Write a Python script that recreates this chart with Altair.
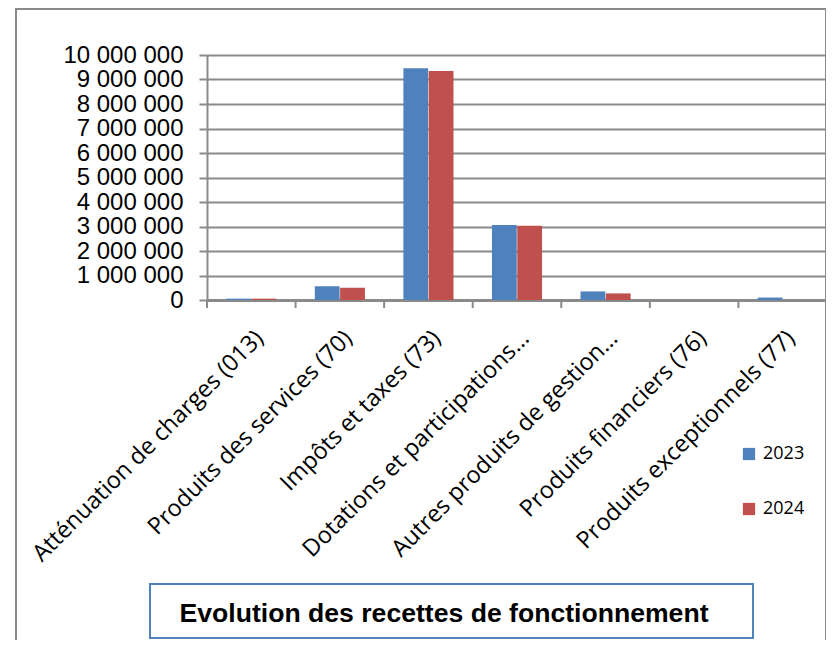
import altair as alt
import pandas as pd

categories = [
    "Atténuation de charges (013)",
    "Produits des services (70)",
    "Impôts et taxes (73)",
    "Dotations et participations…",
    "Autres produits de gestion…",
    "Produits financiers (76)",
    "Produits exceptionnels (77)",
]
years = ["2023", "2024"]
values_2023 = [55000, 560000, 9460000, 3060000, 350000, 0, 100000]
values_2024 = [55000, 500000, 9350000, 3030000, 270000, 0, 0]
colors = ["#4F81BD", "#C0504D"]
y_ticks = list(range(0, 10_000_001, 1_000_000))
title_text = "Evolution des recettes de fonctionnement"

rows = []
for c, a, b in zip(categories, values_2023, values_2024):
    rows.append({"cat": c, "year": years[0], "value": a})
    rows.append({"cat": c, "year": years[1], "value": b})
df = pd.DataFrame(rows)
cats_df = pd.DataFrame({"cat": categories})

W, H = 620, 245
PAD_L, PAD_T = 199, 47
TOTAL_W, TOTAL_H = 818, 632

xscale = alt.Scale(domain=categories, paddingInner=0, paddingOuter=0)
yscale = alt.Scale(domain=[0, 10_000_000], nice=False)

# outer frame
frame = alt.Chart(cats_df.head(1)).mark_rect(
    fillOpacity=0, stroke="#8a8a8a", strokeWidth=2
).encode(
    x=alt.value(16 - 8 - PAD_L), x2=alt.value(W - 1),
    y=alt.value(0 - PAD_T + 1), y2=alt.value(800),
)

bars = alt.Chart(df).mark_bar().encode(
    x=alt.X("cat:N", scale=xscale, sort=categories,
            axis=alt.Axis(title=None, labelAngle=-45, labelAlign="right",
                          labelBaseline="top", ticks=False, labelPadding=26,
                          labelFont="Open Sans", labelFontSize=23.5,
                          labelColor="black", labelLimit=400,
                          domainColor="#8a8a8a", domainWidth=3, grid=False)),
    xOffset=alt.XOffset("year:N", scale=alt.Scale(paddingOuter=0.76, paddingInner=0.02)),
    y=alt.Y("value:Q", scale=yscale,
            axis=alt.Axis(title=None, values=y_ticks,
                          labelExpr="replace(format(datum.value, ','), regexp(',', 'g'), ' ')",
                          labelFont="Liberation Sans", labelFontSize=24,
                          labelColor="black", labelPadding=16,
                          tickSize=8, tickColor="#8a8a8a", tickWidth=2,
                          domainColor="#8a8a8a", domainWidth=2,
                          grid=True, gridColor="#8a8a8a", gridWidth=2)),
    color=alt.Color("year:N", scale=alt.Scale(domain=years, range=colors),
                    legend=alt.Legend(title=None, orient="none",
                                      legendX=533, legendY=390,
                                      symbolType="square", symbolSize=150,
                                      symbolStrokeWidth=0,
                                      labelFont="Open Sans", labelFontSize=18,
                                      labelColor="black", labelOffset=5,
                                      rowPadding=37)),
)

xticks = alt.Chart(cats_df).mark_rule(color="#8a8a8a", strokeWidth=2).encode(
    x=alt.X("cat:N", scale=xscale, sort=categories, bandPosition=0),
    y=alt.value(H), y2=alt.value(H + 8),
)

title_box = alt.Chart(cats_df.head(1)).mark_rect(
    fill="white", stroke="#4F81BD", strokeWidth=2
).encode(
    x=alt.value(150 - 8 - PAD_L), x2=alt.value(753 - 8 - PAD_L),
    y=alt.value(584 - 8 - PAD_T), y2=alt.value(TOTAL_H - PAD_T - 2),
)

title = alt.Chart(cats_df.head(1)).mark_text(
    font="Liberation Sans", fontSize=26.6, fontWeight="bold", color="black",
    align="center", baseline="middle"
).encode(
    x=alt.value(444 - 8 - PAD_L), y=alt.value(614 - 8 - PAD_T),
    text=alt.value(title_text),
)

chart = alt.layer(frame, bars, xticks, title_box, title).properties(
    width=W, height=H,
    autosize=alt.AutoSizeParams(type="none"),
    padding={"left": PAD_L, "top": PAD_T, "right": TOTAL_W - PAD_L - W,
             "bottom": TOTAL_H - PAD_T - H},
    background="white",
).configure_view(stroke=None)

chart.save("out.html", embed_options={"renderer": "svg", "actions": False})
